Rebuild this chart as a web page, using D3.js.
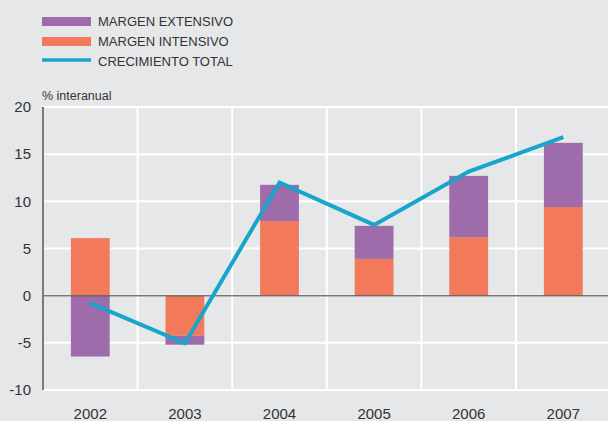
<!DOCTYPE html>
<html><head><meta charset="utf-8">
<script src="https://cdn.jsdelivr.net/npm/d3@7"></script>
<style>
html,body{margin:0;padding:0;background:#e6e7e9;}
svg{display:block;font-family:"Liberation Sans",Arial,sans-serif;}
</style></head>
<body>
<svg id="c" width="608" height="421"></svg>
<script>
const years = ["2002","2003","2004","2005","2006","2007"];
const intensivo = [6.1, -4.25, 7.9, 3.9, 6.2, 9.4];
const extensivo = [-6.45, -0.95, 3.85, 3.5, 6.5, 6.8];
const total = [-0.8, -5.05, 12.0, 7.5, 13.15, 16.8];
const yTicks = [20, 15, 10, 5, 0, -5, -10];
const legendLabels = ["MARGEN EXTENSIVO", "MARGEN INTENSIVO", "CRECIMIENTO TOTAL"];

const colExt = "#9e6bab", colInt = "#f27a5a", colTot = "#17a5cc";

const svg = d3.select("#c");
svg.append("rect").attr("width",608).attr("height",421).attr("fill","#e6e7e9");

const x = d3.scaleBand().domain(years).range([43, 610.6]).paddingInner(0.59).paddingOuter(0.295);
const xs = d3.scaleBand().domain(years).range([43, 610.6]);
const y = d3.scaleLinear().domain([-10, 20]).range([390, 107]);

// grid
const g = svg.append("g");
g.selectAll(".hg").data(yTicks).join("line")
  .attr("x1",43).attr("x2",608).attr("y1",d=>y(d)).attr("y2",d=>y(d))
  .attr("stroke","#fff").attr("stroke-width",2);
g.selectAll(".vg").data(years.slice(1)).join("line")
  .attr("x1",d=>xs(d)).attr("x2",d=>xs(d)).attr("y1",y(20)).attr("y2",y(-10))
  .attr("stroke","#fff").attr("stroke-width",2);

// bars
const bars = svg.append("g");
years.forEach((yr,i)=>{
  const a = intensivo[i], b = extensivo[i];
  bars.append("rect").attr("x",x(yr)).attr("width",x.bandwidth())
    .attr("y",y(Math.max(0,a))).attr("height",Math.abs(y(a)-y(0))).attr("fill",colInt);
  let base = (Math.sign(a)===Math.sign(b)) ? a : 0;
  const top = base + b;
  bars.append("rect").attr("x",x(yr)).attr("width",x.bandwidth())
    .attr("y",y(Math.max(base,top))).attr("height",Math.abs(y(top)-y(base))).attr("fill",colExt);
});

// zero line
svg.append("line").attr("x1",43).attr("x2",608).attr("y1",y(0)).attr("y2",y(0))
  .attr("stroke","#5f5f5f").attr("stroke-width",1.5).attr("opacity",0.85);

// left axis line
svg.append("line").attr("x1",43).attr("x2",43).attr("y1",y(20)).attr("y2",y(-10))
  .attr("stroke","#7a7a7a").attr("stroke-width",2);

// total line
const line = d3.line().x((d,i)=>x(years[i])+x.bandwidth()/2).y(d=>y(d));
svg.append("path").datum(total).attr("d",line).attr("fill","none")
  .attr("stroke",colTot).attr("stroke-width",4).attr("stroke-linejoin","miter");

// y tick labels
const yAxis = d3.axisLeft(y).tickValues(yTicks).tickSize(0).tickPadding(0).tickFormat(d=>String(d));
const ya = svg.append("g").attr("transform","translate(31,0)").call(yAxis);
ya.select(".domain").remove();
ya.selectAll("text").attr("font-size",15).attr("fill","#333").attr("font-family","Liberation Sans, Arial, sans-serif");

// x labels
const xAxis = d3.axisBottom(x).tickSize(0).tickPadding(0);
const xa = svg.append("g").attr("transform","translate(0,408.5)").call(xAxis);
xa.select(".domain").remove();
xa.selectAll("text").attr("font-size",15).attr("fill","#333").attr("font-family","Liberation Sans, Arial, sans-serif");

// unit label
svg.append("text").attr("x",42).attr("y",100).attr("font-size",12.5).attr("fill","#333").text("% interanual");

// legend
const lg = svg.append("g");
lg.append("rect").attr("x",42).attr("y",17).attr("width",49).attr("height",9).attr("fill",colExt);
lg.append("rect").attr("x",42).attr("y",37).attr("width",49).attr("height",9).attr("fill",colInt);
lg.append("line").attr("x1",42).attr("x2",91).attr("y1",60).attr("y2",60).attr("stroke",colTot).attr("stroke-width",3.5);
legendLabels.forEach((t,i)=>{
  lg.append("text").attr("x",98).attr("y",26+i*20).attr("font-size",13).attr("fill","#333").text(t);
});
</script>
</body></html>
